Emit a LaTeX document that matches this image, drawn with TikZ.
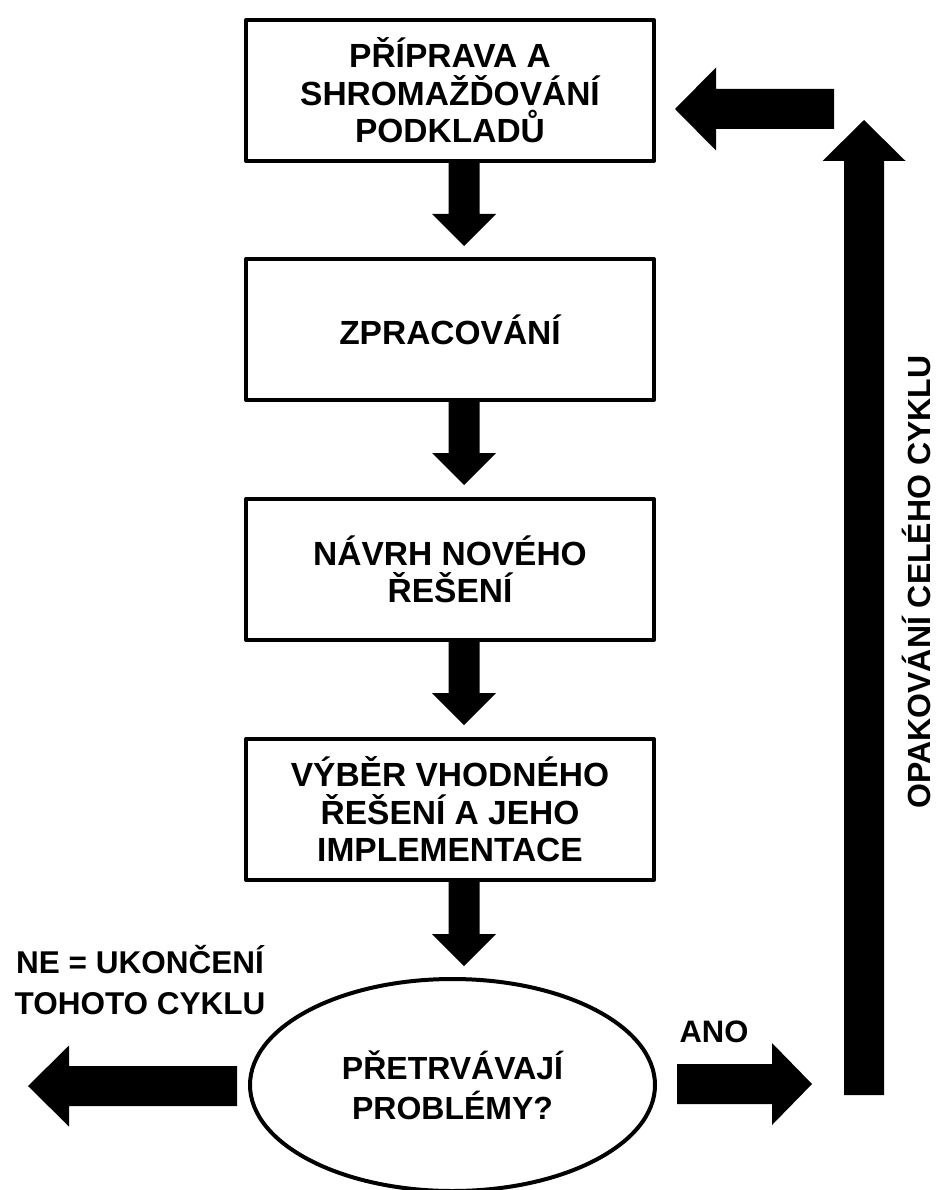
\documentclass[tikz,border=0pt]{standalone}
\usepackage{fontspec}
\setmainfont{Liberation Sans}
\usetikzlibrary{calc,shapes.geometric}

\tikzset{
  stage/.style={draw, rectangle, line width=4pt, line join=round,
    minimum width=408pt, minimum height=141pt, inner sep=0pt, align=center,
    font=\fontsize{33.5}{37.5}\selectfont\bfseries},
  decision/.style={draw, ellipse, line width=4pt,
    minimum width=405pt, minimum height=212pt, inner sep=0pt, align=center,
    font=\fontsize{32}{40}\selectfont\bfseries},
  caption/.style={align=center, inner sep=0pt,
    font=\fontsize{31.5}{41}\selectfont\bfseries},
  % block arrow pointing along +x from its tail:
  % #1 length, #2 half shaft width, #3 half head width, #4 head length
  pics/blockarrow/.style n args={4}{code={
    \fill[black] (0,-#2) -- ({#1-#4},-#2) -- ({#1-#4},-#3) -- (#1,0)
      -- ({#1-#4},#3) -- ({#1-#4},#2) -- (0,#2) -- cycle;
  }},
}

\begin{document}
\begin{tikzpicture}[x=1pt,y=-1pt]
  \useasboundingbox (0,0) rectangle (937,1190);

  % process steps
  \node[stage] (b1) at (450,90.5)  {PŘÍPRAVA A\\SHROMAŽĎOVÁNÍ\\PODKLADŮ};
  \node[stage] (b2) at (450,329.5) {ZPRACOVÁNÍ};
  \node[stage] (b3) at (450,569.5) {NÁVRH NOVÉHO\\ŘEŠENÍ};
  \node[stage] (b4) at (450,809.5) {VÝBĚR VHODNÉHO\\ŘEŠENÍ A JEHO\\IMPLEMENTACE};
  \node[decision] (d) at (452.5,1085) {PŘETRVÁVAJÍ\\PROBLÉMY?};

  % labels
  \node[caption] (ne) at (140,980) {NE = UKONČENÍ\\TOHOTO CYKLU};
  \node[caption, anchor=base, font=\fontsize{31}{36}\selectfont\bfseries]
    (ano) at (714,1042) {ANO};
  \node[caption, anchor=base, rotate=90, font=\fontsize{32}{36}\selectfont\bfseries]
    (loop) at (930,582) {OPAKOVÁNÍ CELÉHO CYKLU};

  % downward flow between the steps
  \coordinate (ax) at (464,0);
  \pic[rotate=-90] at (b1.south -| ax) {blockarrow={83}{15.5}{32}{32}};
  \pic[rotate=-90] at (b2.south -| ax) {blockarrow={83}{15.5}{32}{32}};
  \pic[rotate=-90] at (b3.south -| ax) {blockarrow={83}{15.5}{32}{32}};
  \pic[rotate=-90] at (b4.south -| ax) {blockarrow={84}{15.5}{32}{32}};

  % decision outcomes
  \pic[rotate=180] at ($(d.west)+(-11,1)$) {blockarrow={209}{20}{40.5}{41}};
  \pic at ($(d.east)+(20,-1)$) {blockarrow={135}{20}{41}{40}};

  % repetition loop back to the first step
  \coordinate (loopbot) at (864,1095);
  \coordinate (looptop) at (834,109);
  \pic[rotate=90] at (loopbot) {blockarrow={975}{20}{41.5}{41}};
  \pic[rotate=180] at (looptop) {blockarrow={159}{20}{41.5}{41}};
\end{tikzpicture}
\end{document}
